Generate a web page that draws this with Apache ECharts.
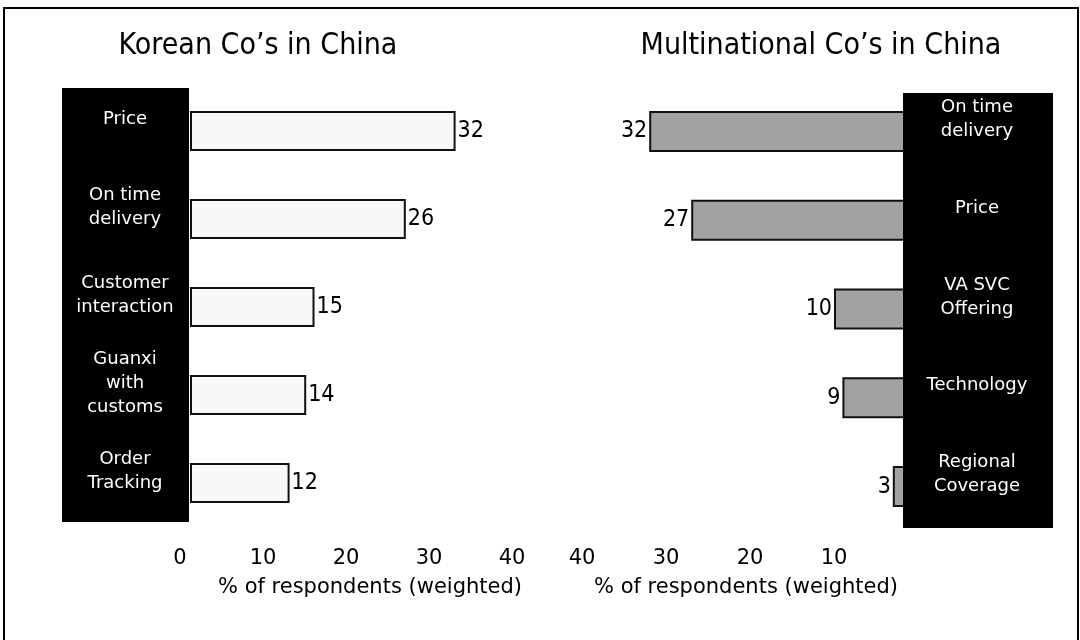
<!DOCTYPE html>
<html>
<head>
<meta charset="utf-8">
<script src="https://cdn.jsdelivr.net/npm/echarts@6/dist/echarts.min.js"></script>
<style>html,body{margin:0;padding:0;background:#fff;}#c{width:1080px;height:640px;}</style>
</head>
<body>
<div id="c"></div>
<script>
// ---- data ----
const leftTitle = 'Korean Co’s in China';
const rightTitle = 'Multinational Co’s in China';
const axisName = '% of respondents (weighted)';
const koreanCats = ['Price', 'On time\ndelivery', 'Customer\ninteraction', 'Guanxi\nwith\ncustoms', 'Order\nTracking'];
const koreanVals = [32, 26, 15, 14, 12];
const mncCats = ['On time\ndelivery', 'Price', 'VA SVC\nOffering', 'Technology', 'Regional\nCoverage'];
const mncVals = [32, 27, 10, 9, 3];

const FONT = "'DejaVu Sans', Verdana, sans-serif";
const TFONT = "'DejaVu Sans Condensed', 'Liberation Sans Narrow', 'DejaVu Sans', sans-serif";

const chart = echarts.init(document.getElementById('c'), null, {renderer: 'canvas'});
const catLabel = {
  color: '#fff', fontSize: 18, fontFamily: FONT, align: 'center', lineHeight: 24,
  formatter: v => v + '\n'
};
chart.setOption({
  animation: false,
  backgroundColor: '#fff',
  title: [
    {text: leftTitle, left: 253, top: 26, textAlign: 'center',
     textStyle: {fontSize: 30, fontWeight: 'normal', color: '#000', fontFamily: TFONT}},
    {text: rightTitle, left: 816, top: 26, textAlign: 'center',
     textStyle: {fontSize: 30, fontWeight: 'normal', color: '#000', fontFamily: TFONT}}
  ],
  grid: [
    {left: 190, width: 332, top: 87, height: 440},
    {left: 582, width: 336, top: 87, height: 444}
  ],
  xAxis: [
    {gridIndex: 0, type: 'value', min: 0, max: 40, interval: 10,
     axisLine: {show: false}, axisTick: {show: false}, splitLine: {show: false},
     axisLabel: {fontSize: 21, color: '#000', fontFamily: FONT, margin: 21, padding: [0, 20, 0, 0]},
     name: axisName, nameLocation: 'middle', nameGap: 50,
     nameTextStyle: {fontSize: 21, color: '#000', fontFamily: FONT, padding: [0, 0, 0, 28]}},
    {gridIndex: 1, type: 'value', min: 0, max: 40, interval: 10, inverse: true,
     axisLine: {show: false}, axisTick: {show: false}, splitLine: {show: false},
     axisLabel: {fontSize: 21, color: '#000', fontFamily: FONT, margin: 17,
       formatter: v => (v === 0 ? '' : String(v))},
     name: axisName, nameLocation: 'middle', nameGap: 46,
     nameTextStyle: {fontSize: 21, color: '#000', fontFamily: FONT, padding: [0, 8, 0, 0]}}
  ],
  yAxis: [
    {gridIndex: 0, type: 'category', data: koreanCats, inverse: true, z: 10,
     axisLine: {show: false}, axisTick: {show: false}, splitLine: {show: false},
     axisLabel: Object.assign({margin: 65}, catLabel)},
    {gridIndex: 1, type: 'category', data: mncCats, inverse: true, position: 'right', z: 10,
     axisLine: {show: false}, axisTick: {show: false}, splitLine: {show: false},
     axisLabel: Object.assign({margin: 59}, catLabel)}
  ],
  graphic: [
    {type: 'rect', z: 5, shape: {x: 62, y: 88, width: 127, height: 434}, style: {fill: '#000'}},
    {type: 'rect', z: 5, shape: {x: 903, y: 93, width: 150, height: 435}, style: {fill: '#000'}},
    {type: 'rect', z: 20, shape: {x: 4, y: 8, width: 1074, height: 640},
     style: {fill: 'none', stroke: '#000', lineWidth: 2}}
  ],
  series: [
    {type: 'bar', xAxisIndex: 0, yAxisIndex: 0, data: koreanVals, barWidth: 40,
     itemStyle: {color: '#f8f8f8', borderColor: '#111', borderWidth: 2},
     label: {show: true, position: 'right', distance: 2, fontSize: 23, color: '#000', fontFamily: TFONT}},
    {type: 'bar', xAxisIndex: 1, yAxisIndex: 1, data: mncVals, barWidth: 41,
     itemStyle: {color: '#a2a2a2', borderColor: '#111', borderWidth: 2},
     label: {show: true, position: 'left', distance: 2, fontSize: 23, color: '#000', fontFamily: TFONT}}
  ]
});
</script>
</body>
</html>
